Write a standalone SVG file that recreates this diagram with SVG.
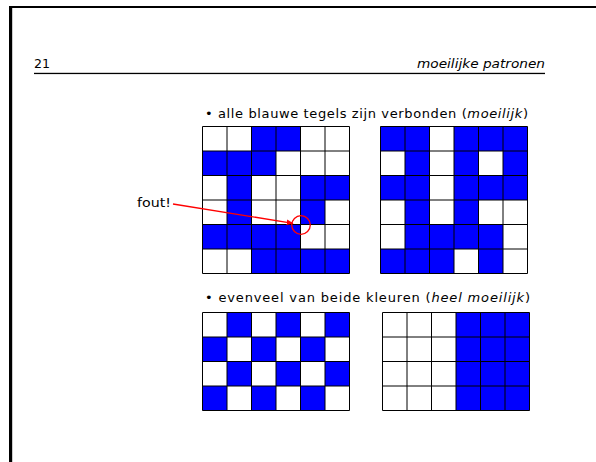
<svg xmlns="http://www.w3.org/2000/svg" width="596" height="462" viewBox="0 0 596 462">
<style>
text{font-family:"DejaVu Sans","Liberation Sans",sans-serif;fill:#000}
.hdr{font-size:12.5px}
.it{font-style:italic}
.b{font-size:13px}
.blue{fill:#0000ff}
.grid{fill:none;stroke:#000;stroke-width:1}
.red{stroke:#ff0000;stroke-width:1.3;fill:none}
</style>
<defs>
<marker id="ah" viewBox="0 0 10 10" refX="9" refY="5" markerWidth="7" markerHeight="7" orient="auto" markerUnits="userSpaceOnUse">
<path d="M0,1 L10,5 L0,9 Z" fill="#ff0000"/>
</marker>
</defs>
<rect width="596" height="462" fill="#fff"/>
<g id="frame">
<rect x="9" y="6" width="587" height="2" fill="#000"/>
<rect x="9" y="6" width="3.2" height="456" fill="#000"/>
</g>
<g id="header">
<text class="hdr" x="34" y="68" textLength="16" lengthAdjust="spacingAndGlyphs">21</text>
<text class="hdr it" x="417" y="68" textLength="128" lengthAdjust="spacingAndGlyphs">moeilijke patronen</text>
<rect x="34" y="72.8" width="511" height="1.3" fill="#000"/>
</g>
<g id="bullet1"><text class="b" x="205" y="118" textLength="323" lengthAdjust="spacing">• alle blauwe tegels zijn verbonden (<tspan class="it">moeilijk</tspan>)</text></g>
<g id="bullet2"><text class="b" x="205" y="302" textLength="325" lengthAdjust="spacing">• evenveel van beide kleuren (<tspan class="it">heel moeilijk</tspan>)</text></g>
<g id="grid1" transform="translate(202.5,126.5)">
<rect class="blue" x="49" y="0" width="49" height="24.5"/>
<rect class="blue" x="0" y="24.5" width="73.5" height="24.5"/>
<rect class="blue" x="24.5" y="49" width="24.5" height="49"/>
<rect class="blue" x="98" y="49" width="49" height="24.5"/>
<rect class="blue" x="98" y="73.5" width="24.5" height="24.5"/>
<rect class="blue" x="0" y="98" width="98" height="24.5"/>
<rect class="blue" x="49" y="122.5" width="98" height="24.5"/>
<path class="grid" d="M0,0H147M0,24.5H147M0,49H147M0,73.5H147M0,98H147M0,122.5H147M0,147H147M0,0V147M24.5,0V147M49,0V147M73.5,0V147M98,0V147M122.5,0V147M147,0V147"/>
</g>
<g id="grid2" transform="translate(380.5,126.5)">
<rect class="blue" x="0" y="0" width="49" height="24.5"/>
<rect class="blue" x="73.5" y="0" width="73.5" height="24.5"/>
<rect class="blue" x="24.5" y="24.5" width="24.5" height="24.5"/>
<rect class="blue" x="73.5" y="24.5" width="24.5" height="24.5"/>
<rect class="blue" x="122.5" y="24.5" width="24.5" height="24.5"/>
<rect class="blue" x="0" y="49" width="49" height="24.5"/>
<rect class="blue" x="73.5" y="49" width="73.5" height="24.5"/>
<rect class="blue" x="24.5" y="73.5" width="24.5" height="24.5"/>
<rect class="blue" x="73.5" y="73.5" width="24.5" height="24.5"/>
<rect class="blue" x="24.5" y="98" width="98" height="24.5"/>
<rect class="blue" x="0" y="122.5" width="73.5" height="24.5"/>
<rect class="blue" x="98" y="122.5" width="24.5" height="24.5"/>
<path class="grid" d="M0,0H147M0,24.5H147M0,49H147M0,73.5H147M0,98H147M0,122.5H147M0,147H147M0,0V147M24.5,0V147M49,0V147M73.5,0V147M98,0V147M122.5,0V147M147,0V147"/>
</g>
<g id="grid3" transform="translate(202.5,312.5)">
<rect class="blue" x="24.5" y="0" width="24.5" height="24.5"/>
<rect class="blue" x="73.5" y="0" width="24.5" height="24.5"/>
<rect class="blue" x="122.5" y="0" width="24.5" height="24.5"/>
<rect class="blue" x="0" y="24.5" width="24.5" height="24.5"/>
<rect class="blue" x="49" y="24.5" width="24.5" height="24.5"/>
<rect class="blue" x="98" y="24.5" width="24.5" height="24.5"/>
<rect class="blue" x="24.5" y="49" width="24.5" height="24.5"/>
<rect class="blue" x="73.5" y="49" width="24.5" height="24.5"/>
<rect class="blue" x="122.5" y="49" width="24.5" height="24.5"/>
<rect class="blue" x="0" y="73.5" width="24.5" height="24.5"/>
<rect class="blue" x="49" y="73.5" width="24.5" height="24.5"/>
<rect class="blue" x="98" y="73.5" width="24.5" height="24.5"/>
<path class="grid" d="M0,0H147M0,24.5H147M0,49H147M0,73.5H147M0,98H147M0,0V98M24.5,0V98M49,0V98M73.5,0V98M98,0V98M122.5,0V98M147,0V98"/>
</g>
<g id="grid4" transform="translate(382.5,312.5)">
<rect class="blue" x="73.5" y="0" width="73.5" height="98"/>
<path class="grid" d="M0,0H147M0,24.5H147M0,49H147M0,73.5H147M0,98H147M0,0V98M24.5,0V98M49,0V98M73.5,0V98M98,0V98M122.5,0V98M147,0V98"/>
</g>
<g id="fout">
<text class="b" x="137" y="207" textLength="34" lengthAdjust="spacingAndGlyphs">fout!</text>
</g>
<g id="connectors">
<line class="red" x1="173" y1="204" x2="293" y2="223.3" marker-end="url(#ah)"/>
<circle class="red" cx="301" cy="225" r="9.3" stroke-width="1.6"/>
</g>
</svg>
